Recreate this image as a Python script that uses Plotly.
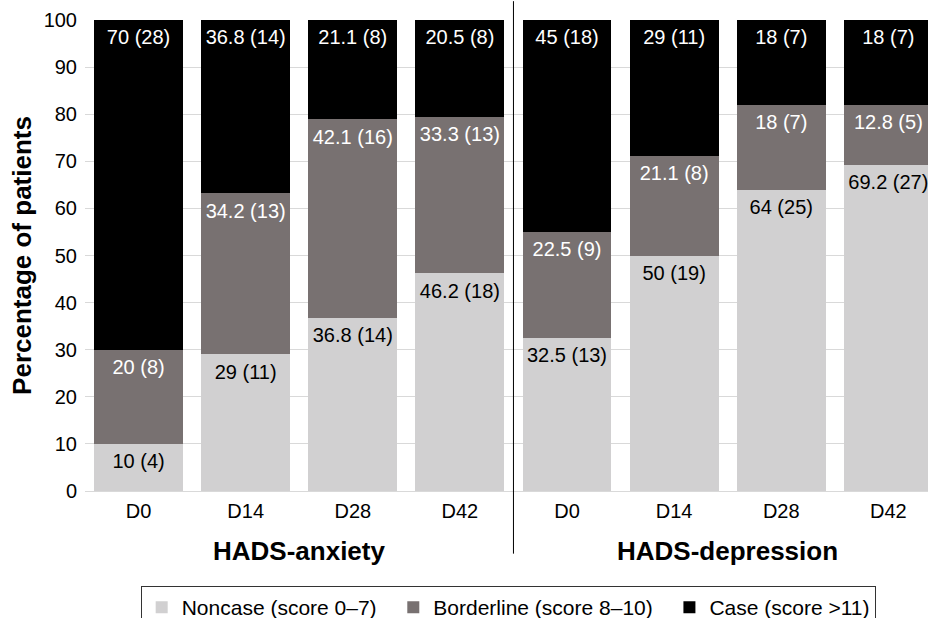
import plotly.graph_objects as go

categories = ["D0", "D14", "D28", "D42", "D0 ", "D14 ", "D28 ", "D42 "]
tick_labels = ["D0", "D14", "D28", "D42", "D0", "D14", "D28", "D42"]
groups = ["HADS-anxiety", "HADS-depression"]

noncase_pct = [10, 29, 36.8, 46.2, 32.5, 50, 64, 69.2]
noncase_n = [4, 11, 14, 18, 13, 19, 25, 27]
borderline_pct = [20, 34.2, 42.1, 33.3, 22.5, 21.1, 18, 12.8]
borderline_n = [8, 13, 16, 13, 9, 8, 7, 5]
case_pct = [70, 36.8, 21.1, 20.5, 45, 29, 18, 18]
case_n = [28, 14, 8, 8, 18, 11, 7, 7]

series = [
    ("Noncase (score 0–7)", noncase_pct, noncase_n, "#d1d0d1", "black"),
    ("Borderline (score 8–10)", borderline_pct, borderline_n, "#787171", "white"),
    ("Case (score >11)", case_pct, case_n, "#000000", "white"),
]

FONT = "Liberation Sans, Arial, Helvetica, sans-serif"
LABEL_DROP = 4.1  # label centre sits this far (in % units) below each segment top

fig = go.Figure()
xs = list(range(len(categories)))
base = [0.0] * len(xs)
pad = ["\u00a0\u00a0", "\u00a0\u00a0", ""]
for (name, pct, n, color, tcolor), p in zip(series, pad):
    fig.add_trace(go.Bar(
        x=xs, y=pct, name=name + p,
        marker=dict(color=color, line=dict(width=0)),
        width=0.83, hoverinfo="skip",
    ))
    tops = [b + v for b, v in zip(base, pct)]
    fig.add_trace(go.Scatter(
        x=xs, y=[min(t, 100) - LABEL_DROP for t in tops], mode="text",
        text=[f"{v:g} ({k})" for v, k in zip(pct, n)],
        textposition="middle center",
        textfont=dict(color=tcolor, size=20, family=FONT),
        showlegend=False, hoverinfo="skip",
    ))
    base = tops

fig.update_layout(
    barmode="stack",
    width=928, height=618,
    margin=dict(l=85, r=0, t=20, b=127, autoexpand=False),
    plot_bgcolor="white", paper_bgcolor="white",
    font=dict(family=FONT, size=20, color="black"),
    showlegend=True,
    legend=dict(orientation="h", x=0.502, xanchor="center",
                yref="container", y=(618 - 586) / 618, yanchor="top",
                bordercolor="#333333", borderwidth=1, font=dict(size=21),
                traceorder="normal"),
)
fig.update_xaxes(
    range=[-0.5, 7.37], tickmode="array", tickvals=xs, ticktext=tick_labels,
    showgrid=False, showline=False, ticks="", ticklabelstandoff=6,
    tickfont=dict(size=20), automargin=False,
)
fig.update_yaxes(
    range=[0, 100], dtick=10, showgrid=True, gridcolor="#d9d9d9", gridwidth=1,
    zeroline=True, zerolinecolor="#d9d9d9", zerolinewidth=1,
    showline=False, ticks="", ticklabelstandoff=7, tickfont=dict(size=20),
    automargin=False,
    title=dict(text="<b>Percentage of patients</b>", font=dict(size=26), standoff=4),
)
fig.add_shape(type="line", xref="x", yref="paper", x0=3.5, x1=3.5, y0=-0.133, y1=1.04,
              line=dict(color="black", width=1))
for gx, g in zip([1.5, 5.5], groups):
    fig.add_annotation(x=gx, xref="x", y=-0.127, yref="paper", text=f"<b>{g}</b>",
                       showarrow=False, font=dict(size=26), yanchor="middle")

fig.write_html("out.html", config={"displayModeBar": False},
               post_script="document.body.style.margin='0';")
